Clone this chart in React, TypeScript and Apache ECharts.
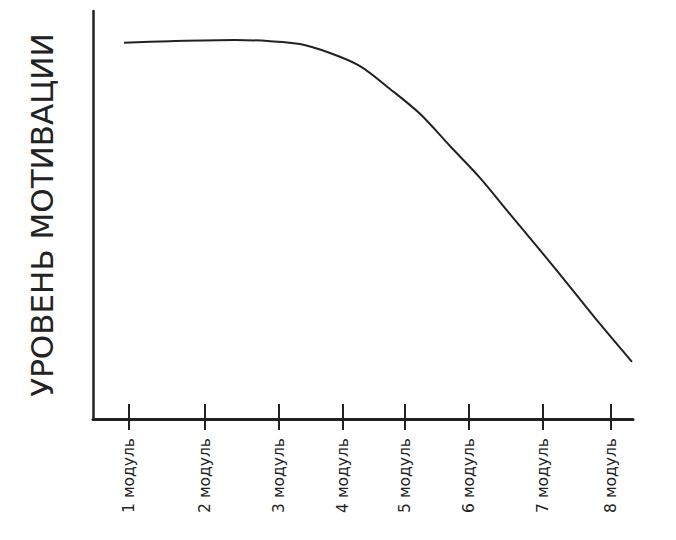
import React, { useEffect, useRef } from "react";
import * as echarts from "echarts";

const moduleLabels = ["1 модуль", "2 модуль", "3 модуль", "4 модуль", "5 модуль", "6 модуль", "7 модуль", "8 модуль"];
// position of each module along the (unevenly spaced) horizontal axis
const modulePositions = [36, 112, 186, 250, 312, 376, 450, 518];
// motivation curve: x position along axis, motivation level 0..100
const curveX = [31, 77, 142, 177, 207, 237, 267, 297, 327, 357, 387, 417, 447, 477, 507, 539];
const curveY = [92.2, 92.6, 92.9, 92.6, 91.9, 89.7, 86.5, 80.9, 74.8, 66.9, 59.1, 50.2, 41.4, 32.4, 23.3, 14.0];
const yTitle = "УРОВЕНЬ МОТИВАЦИИ";

export default function App() {
  const ref = useRef<HTMLDivElement>(null);
  useEffect(() => {
    document.body.style.margin = "0";
    const chart = echarts.init(ref.current!, null, { renderer: "svg" });
    const labelMap: Record<number, string> = {};
    modulePositions.forEach((p, i) => (labelMap[p] = moduleLabels[i]));
    const ink = "#222";
    chart.setOption({
      animation: false,
      backgroundColor: "#fff",
      grid: { left: 93, right: 43, top: 11, bottom: 121 },
      xAxis: [
        {
          type: "value",
          min: 0,
          max: 540,
          axisLine: { show: true, lineStyle: { color: ink, width: 3 } },
          splitLine: { show: false },
          axisTick: { show: true, customValues: modulePositions, length: 11, lineStyle: { color: ink, width: 2 } },
          axisLabel: {
            customValues: modulePositions,
            formatter: (v: number) => labelMap[v] ?? "",
            rotate: 90,
            margin: 19,
            color: ink,
            fontSize: 15.5,
            fontFamily: "'DejaVu Sans', sans-serif",
          },
        },
        {
          type: "value",
          min: 0,
          max: 540,
          position: "bottom",
          axisLine: { show: false },
          splitLine: { show: false },
          axisTick: { show: true, inside: true, customValues: modulePositions, length: 15, lineStyle: { color: ink, width: 2 } },
          axisLabel: { show: false },
        },
      ],
      yAxis: {
        type: "value",
        min: 0,
        max: 100,
        axisLine: { show: true, lineStyle: { color: ink, width: 2.5 } },
        axisTick: { show: false },
        axisLabel: { show: false },
        splitLine: { show: false },
        name: yTitle,
        nameLocation: "middle",
        nameRotate: 90,
        nameGap: 36,
        nameTextStyle: { color: ink, fontSize: 31, fontFamily: "'DejaVu Sans', sans-serif" },
      },
      series: [
        {
          type: "line",
          xAxisIndex: 0,
          data: curveX.map((x, i) => [x, curveY[i]]),
          smooth: 0.3,
          showSymbol: false,
          lineStyle: { color: ink, width: 2 },
        },
      ],
    });
    return () => chart.dispose();
  }, []);
  return <div ref={ref} style={{ width: 676, height: 540 }} />;
}
